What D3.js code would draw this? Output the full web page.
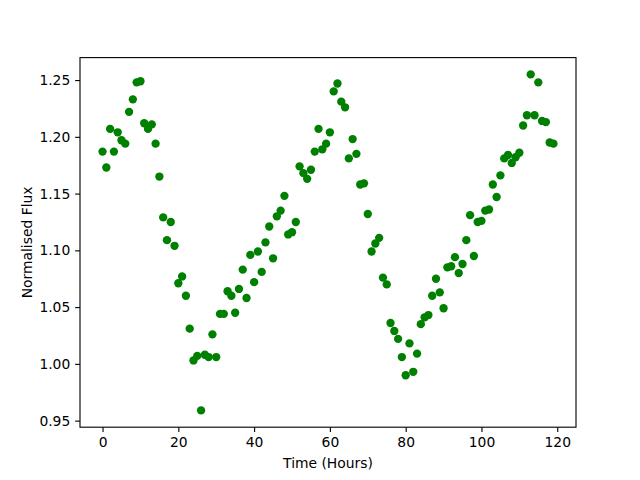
<!DOCTYPE html>
<html>
<head>
<meta charset="utf-8">
<script src="https://cdn.jsdelivr.net/npm/d3@7"></script>
<style>
  body { margin: 0; background: #fff; }
  svg text { font-family: "DejaVu Sans", sans-serif; }
</style>
</head>
<body>
<div id="chart"></div>
<script>
// hours since start
const hours = d3.range(0, 120);
// normalised flux
const flux = [
  1.187, 1.173, 1.207, 1.187, 1.204, 1.197, 1.194, 1.222, 1.233, 1.248,
  1.249, 1.212, 1.207, 1.211, 1.194, 1.165, 1.129, 1.109, 1.125, 1.104,
  1.071, 1.077, 1.060, 1.031, 1.003, 1.007, 0.959, 1.008, 1.006, 1.026,
  1.006, 1.044, 1.044, 1.064, 1.060, 1.045, 1.066, 1.083, 1.058, 1.096,
  1.072, 1.099, 1.081, 1.107, 1.121, 1.093, 1.130, 1.135, 1.148, 1.114,
  1.116, 1.125, 1.174, 1.168, 1.163, 1.171, 1.187, 1.207, 1.189, 1.194,
  1.204, 1.240, 1.247, 1.231, 1.226, 1.181, 1.198, 1.185, 1.158, 1.159,
  1.132, 1.099, 1.106, 1.111, 1.076, 1.070, 1.036, 1.029, 1.022, 1.006,
  0.990, 1.018, 0.993, 1.009, 1.035, 1.041, 1.043, 1.060, 1.075, 1.063,
  1.049, 1.085, 1.086, 1.094, 1.080, 1.088, 1.109, 1.131, 1.095, 1.125,
  1.126, 1.135, 1.136, 1.158, 1.147, 1.166, 1.181, 1.184, 1.177, 1.182,
  1.186, 1.210, 1.219, 1.255, 1.219, 1.248, 1.214, 1.213, 1.195, 1.194
];
const xTicks = [0, 20, 40, 60, 80, 100, 120];
const yTicks = [0.95, 1.00, 1.05, 1.10, 1.15, 1.20, 1.25];

const width = 640, height = 480;
const margin = {left: 80, right: 64, top: 57.6, bottom: 52.8};
const pt = 100 / 72;

const svg = d3.select("#chart").append("svg")
  .attr("width", width).attr("height", height);

// matplotlib-style 5% margins around the data
function padded(ext){
  const p = (ext[1] - ext[0]) * 0.05;
  return [ext[0] - p, ext[1] + p];
}

const x = d3.scaleLinear()
  .domain(padded(d3.extent(hours)))
  .range([margin.left, width - margin.right]);
const y = d3.scaleLinear()
  .domain(padded(d3.extent(flux)))
  .range([height - margin.bottom, margin.top]);

const points = hours.map((h, i) => ({h: h, f: flux[i]}));

svg.append("g").selectAll("circle")
  .data(points)
  .enter().append("circle")
  .attr("cx", d => x(d.h))
  .attr("cy", d => y(d.f))
  .attr("r", 3 * pt)
  .attr("fill", "#008000");

const xAxis = svg.append("g")
  .attr("transform", `translate(0, ${height - margin.bottom})`)
  .call(d3.axisBottom(x).tickValues(xTicks).tickFormat(d3.format("d"))
    .tickSize(3.5 * pt).tickSizeOuter(0).tickPadding(3.5 * pt));

const yAxis = svg.append("g")
  .attr("transform", `translate(${margin.left}, 0)`)
  .call(d3.axisLeft(y).tickValues(yTicks).tickFormat(d3.format(".2f"))
    .tickSize(3.5 * pt).tickSizeOuter(0).tickPadding(3.5 * pt));

for (let ax of [xAxis, yAxis]){
  ax.select(".domain").remove();
  ax.selectAll("line").attr("stroke", "#000").attr("stroke-width", 0.8 * pt);
  ax.selectAll("text").attr("fill", "#000").style("font-size", (10 * pt) + "px");
}

// frame
svg.append("rect")
  .attr("x", margin.left).attr("y", margin.top)
  .attr("width", width - margin.left - margin.right)
  .attr("height", height - margin.top - margin.bottom)
  .attr("fill", "none").attr("stroke", "#000").attr("stroke-width", 0.8 * pt);

svg.append("text")
  .attr("x", (margin.left + width - margin.right) / 2)
  .attr("y", 468)
  .attr("text-anchor", "middle")
  .style("font-size", (10 * pt) + "px")
  .text("Time (Hours)");

svg.append("text")
  .attr("transform", `translate(32, ${(margin.top + height - margin.bottom) / 2}) rotate(-90)`)
  .attr("text-anchor", "middle")
  .style("font-size", (10 * pt) + "px")
  .text("Normalised Flux");
</script>
</body>
</html>
